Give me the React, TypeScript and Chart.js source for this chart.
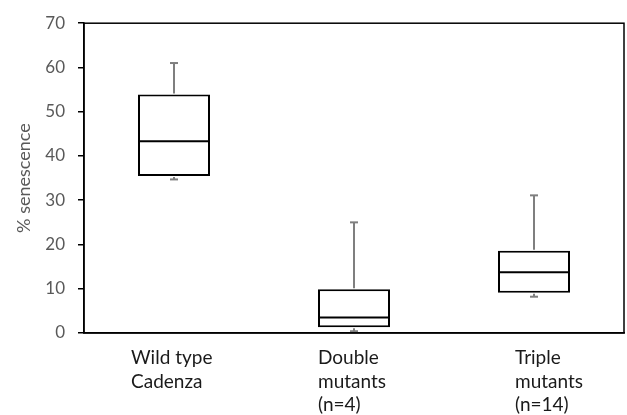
import React, { useEffect, useRef } from "react";
import { Chart, registerables } from "chart.js";

Chart.register(...registerables);

// ---- Data ----
const categories: string[][] = [
  ["Wild type", "Cadenza"],
  ["Double", "mutants", "(n=4)"],
  ["Triple", "mutants", "(n=14)"],
];
const whiskerMin = [34.7, 0.4, 8.2];
const q1 = [35.5, 1.3, 9.1];
const median = [43.3, 3.5, 13.7];
const q3 = [53.9, 9.9, 18.6];
const whiskerMax = [61.0, 25.0, 31.1];
const yMin = 0;
const yMax = 70;
const yStep = 10;
const yTitle = "% senescence";

const FONT = "Lato, 'Open Sans', sans-serif";

const boxPlugin = {
  id: "boxExtras",
  afterDatasetsDraw(chart: any) {
    const { ctx, chartArea } = chart;
    const y = chart.scales.y;
    const meta = chart.getDatasetMeta(0);
    const line = (x1: number, y1: number, x2: number, y2: number) => {
      ctx.beginPath();
      ctx.moveTo(x1, y1);
      ctx.lineTo(x2, y2);
      ctx.stroke();
    };
    ctx.save();
    meta.data.forEach((bar: any, i: number) => {
      const cx = bar.x;
      const half = bar.width / 2;
      const pMax = y.getPixelForValue(whiskerMax[i]);
      const pQ3 = y.getPixelForValue(q3[i]);
      const pQ1 = y.getPixelForValue(q1[i]);
      const pMin = y.getPixelForValue(whiskerMin[i]);
      const pMed = y.getPixelForValue(median[i]);
      ctx.strokeStyle = "#7f7f7f";
      ctx.lineWidth = 2;
      line(cx, pQ3 - 1, cx, pMax);
      line(cx - 4, pMax, cx + 4, pMax);
      line(cx, pQ1 + 1, cx, pMin);
      line(cx - 4, pMin, cx + 4, pMin);
      ctx.strokeStyle = "#000000";
      ctx.lineWidth = 2;
      line(cx - half + 1, pMed, cx + half - 1, pMed);
    });
    // plot area border
    ctx.strokeStyle = "#000000";
    ctx.lineWidth = 1.5;
    ctx.strokeRect(
      chartArea.left,
      chartArea.top,
      chartArea.right - chartArea.left,
      chartArea.bottom - chartArea.top
    );
    // category labels
    const labelNudge = [-43, -36, -19];
    ctx.fillStyle = "#1a1a1a";
    ctx.font = `19px ${FONT}`;
    ctx.textAlign = "left";
    ctx.textBaseline = "middle";
    const xs = chart.scales.x;
    categories.forEach((lines, i) => {
      const cx = xs.getPixelForValue(i);
      lines.forEach((t, j) => {
        ctx.fillText(t, cx + labelNudge[i], chartArea.bottom + 25 + j * 23.5);
      });
    });
    ctx.restore();
  },
};

export default function App() {
  const ref = useRef<HTMLCanvasElement | null>(null);
  useEffect(() => {
    document.body.style.margin = "0";
    const canvas = ref.current;
    if (!canvas) return;
    const labels = categories.map((c) => c.join(" "));
    const chart = new Chart(canvas, {
      type: "bar",
      data: {
        labels,
        datasets: [
          {
            data: q1.map((v, i) => [v, q3[i]]) as any,
            backgroundColor: "#ffffff",
            borderColor: "#000000",
            borderWidth: 2,
            borderSkipped: false,
            barPercentage: 0.4,
            categoryPercentage: 1,
          },
        ],
      },
      options: {
        animation: false,
        responsive: true,
        maintainAspectRatio: false,
        layout: { padding: { top: 17, right: 3, left: 0, bottom: 0 } },
        plugins: {
          legend: { display: false },
          tooltip: { enabled: false },
        },
        scales: {
          x: {
            grid: { display: false },
            border: { display: true, color: "#000000", width: 1.5 },
            ticks: { display: false },
            afterFit: (s: any) => {
              s.height = 82;
            },
          },
          y: {
            min: yMin,
            max: yMax,
            ticks: {
              stepSize: yStep,
              color: "#595959",
              font: { family: FONT, size: 17 },
              padding: 13,
            },
            grid: {
              drawOnChartArea: false,
              drawTicks: true,
              tickLength: 6,
              tickColor: "#000000",
              lineWidth: 1.5,
            },
            border: { display: true, color: "#000000", width: 1.5 },
            title: {
              display: true,
              text: yTitle,
              color: "#595959",
              font: { family: FONT, size: 18 },
              padding: { top: 13, bottom: 0 },
            },
            afterFit: (s: any) => {
              s.width = 84;
            },
          },
        },
      },
      plugins: [boxPlugin],
    });
    return () => chart.destroy();
  }, []);
  return (
    <div style={{ width: 627, height: 415, position: "relative" }}>
      <canvas ref={ref} />
    </div>
  );
}
